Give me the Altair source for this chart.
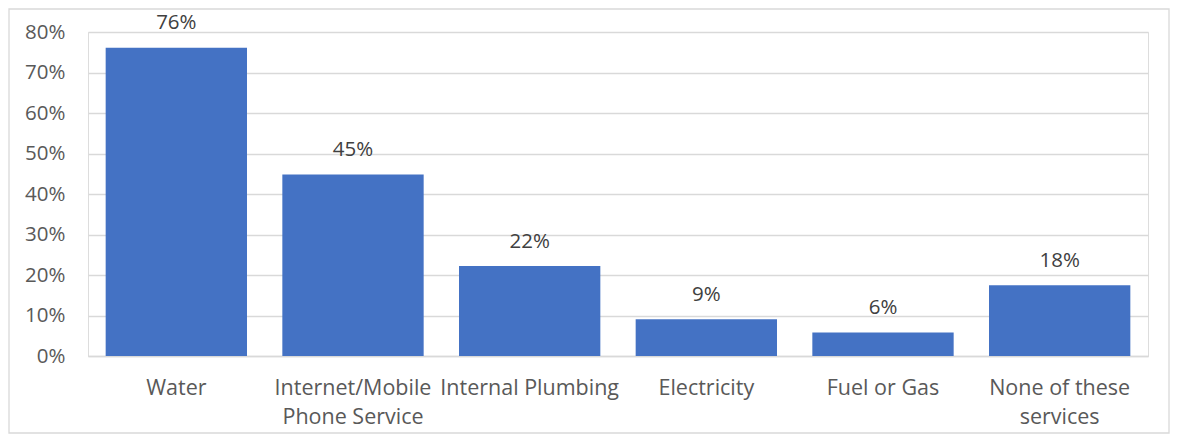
import altair as alt
import pandas as pd

categories = ["Water", "Internet/Mobile\nPhone Service", "Internal Plumbing",
              "Electricity", "Fuel or Gas", "None of these\nservices"]
values = [0.761, 0.448, 0.222, 0.091, 0.058, 0.175]
y_ticks = [0, 0.1, 0.2, 0.3, 0.4, 0.5, 0.6, 0.7, 0.8]

df = pd.DataFrame({"cat": categories, "val": values})

FONT = "Open Sans"
FS = 20.5

x = alt.X("cat:N", sort=None, title=None,
          scale=alt.Scale(paddingInner=0.2, paddingOuter=0.1),
          axis=alt.Axis(labelAngle=0, labelFont=FONT, labelFontSize=21.5,
                        labelColor="#595959", ticks=False, tickSize=0,
                        labelPadding=21, labelBaseline="top",
                        labelLineHeight=29, domainColor="#D9D9D9",
                        domainWidth=1.3,
                        labelExpr="split(datum.label, '\\n')"))
y = alt.Y("val:Q", title=None,
          scale=alt.Scale(domain=[0, 0.8], nice=False),
          axis=alt.Axis(values=y_ticks, format=".0%", labelFont=FONT,
                        labelFontSize=FS, labelColor="#595959",
                        ticks=False, tickSize=0, domain=False, labelPadding=23,
                        gridColor="#D9D9D9", gridWidth=1.3))

bars = alt.Chart(df).mark_bar(color="#4472C4").encode(x=x, y=y)
labels = alt.Chart(df).mark_text(font=FONT, fontSize=FS, color="#404040",
                                 baseline="middle", dy=-24.5).encode(
    x=alt.X("cat:N", sort=None), y="val:Q", text=alt.Text("val:Q", format=".0%"))

border = alt.Chart(alt.Data(values=[{}])).mark_rect(
    fill=None, stroke="#D9D9D9", strokeWidth=1.3).encode(
    x=alt.value(-79), x2=alt.value(1081), y=alt.value(-23), y2=alt.value(401))

chart = alt.layer(border, bars, labels).properties(
    width=1060, height=324, autosize="none",
    padding={"left": 80, "top": 24, "right": 22, "bottom": 78}
).configure_view(stroke=None).configure(background="white")

chart.save("out.html", embed_options={"renderer": "svg", "actions": False})
